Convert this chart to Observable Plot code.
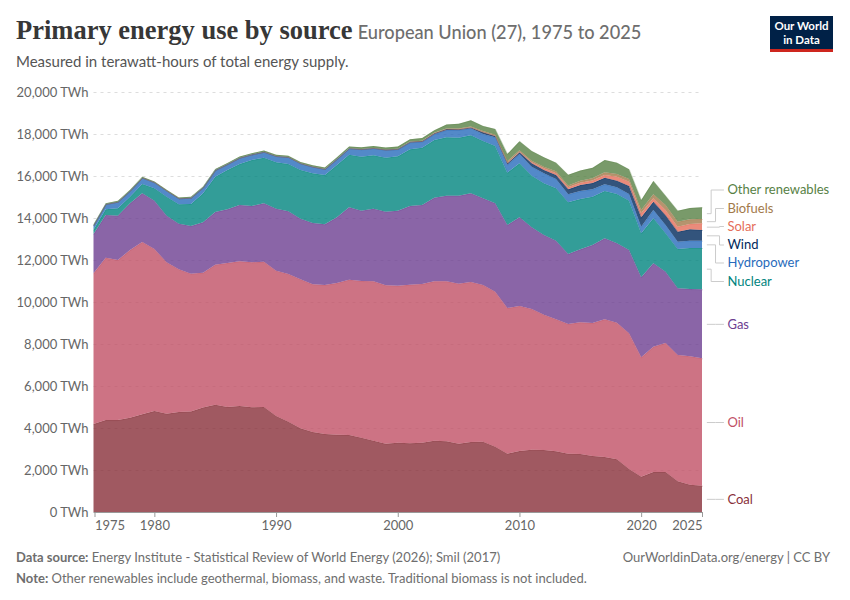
<!DOCTYPE html>
<html><head><meta charset="utf-8">
<script src="https://cdn.jsdelivr.net/npm/d3@7"></script>
<script src="https://cdn.jsdelivr.net/npm/@observablehq/plot@0.6"></script>
<style>
html,body{margin:0;padding:0;background:#fff;font-family:Lato,sans-serif;}
#page{position:relative;width:850px;height:600px;overflow:hidden;}
#head{position:relative;height:80px;}
#title{position:absolute;left:16px;top:15px;white-space:nowrap;color:#373737;}
#title b{font-family:"Liberation Serif",serif;font-weight:700;font-size:26.5px;}
#title span{font-size:18.2px;font-weight:500;color:#6e6e6e;margin-left:1px;}
#sub{position:absolute;left:16px;top:52px;font-size:15px;color:#555;}
#logo{position:absolute;left:770px;top:16px;width:63px;height:36px;background:#002147;border-bottom:3px solid #ce261e;box-sizing:border-box;color:#fff;font-size:11.5px;font-weight:700;line-height:14px;text-align:center;padding-top:3px;}
svg{display:block;}
#foot{position:absolute;left:16px;right:20px;top:547px;font-size:13px;color:#6e6e6e;line-height:21px;}
#foot .r{position:absolute;right:0;top:0;}
</style></head><body>
<div id="page">
 <div id="head">
  <div id="title"><b>Primary energy use by source</b> <span>European Union (27), 1975 to 2025</span></div>
  <div id="sub">Measured in terawatt-hours of total energy supply.</div>
  <div id="logo">Our World<br>in Data</div>
 </div>
 <div id="chart"></div>
 <div id="foot"><b>Data source:</b> Energy Institute - Statistical Review of World Energy (2026); Smil (2017)<span class="r">OurWorldinData.org/energy | CC BY</span><br><b>Note:</b> Other renewables include geothermal, biomass, and waste. Traditional biomass is not included.</div>
</div>
<script>
const years = d3.range(1975, 2026);
const coal = [4190,4380,4380,4490,4650,4810,4680,4760,4790,4980,5110,5000,5050,4985,5000,4570,4300,3985,3810,3715,3680,3667,3540,3395,3250,3300,3270,3300,3395,3365,3250,3333,3350,3110,2776,2905,2968,2952,2889,2776,2762,2667,2619,2508,2048,1681,1905,1905,1460,1300,1252];
const oil = [7175,7730,7620,7986,8207,7714,7210,6796,6560,6417,6668,6857,6887,6905,6920,6922,7033,7094,7031,7095,7225,7396,7460,7589,7544,7470,7555,7557,7589,7619,7623,7619,7460,7382,6938,6905,6699,6445,6286,6176,6270,6333,6556,6508,6460,5684,5968,6143,6016,6113,6065];
const gas = [1873,2033,2111,2222,2318,2301,2221,2174,2269,2397,2508,2556,2682,2681,2778,2952,2984,2889,2921,2888,3127,3445,3349,3460,3508,3570,3746,3762,3984,4079,4190,4223,4127,4206,3953,4222,3889,3793,3746,3334,3476,3714,3857,3778,3968,3810,3968,3396,3175,3206,3286];
const nuclear = [200,270,349,318,444,588,905,921,1048,1381,1682,1873,1952,2191,2175,2207,2254,2318,2365,2350,2492,2507,2571,2540,2571,2600,2699,2730,2746,2778,2762,2762,2730,2731,2492,2571,2460,2461,2492,2460,2397,2302,2254,2349,2349,2095,2143,1826,1873,1952,1968];
const hydro = [230,254,318,286,302,285,286,286,301,285,318,285,302,270,280,300,330,317,317,285,286,302,350,333,365,330,333,286,286,349,365,333,333,412,381,445,428,476,444,381,381,349,317,317,318,317,397,397,349,350,350];
const wind = [0,0,0,0,0,0,0,0,0,0,0,0,0,0,0,1,2,3,3,5,7,8,12,18,20,22,28,34,40,48,40,40,79,64,63,79,159,159,191,238,285,300,318,318,381,445,397,460,476,539,508];
const solar = [0,0,0,0,0,0,0,0,0,0,0,0,0,0,0,0,0,0,0,0,0,0,0,0,0,1,1,1,2,3,4,6,10,15,20,25,47,79,79,95,112,120,127,190,206,190,159,254,238,254,317];
const biofuels = [0,0,0,0,0,0,0,0,0,0,0,0,0,0,0,0,0,1,1,1,2,2,3,3,4,6,8,12,15,20,30,47,59,48,80,80,80,79,95,90,90,110,127,127,127,159,190,238,238,223,206];
const otherRenewables = [35,35,38,38,40,40,42,42,45,45,48,50,52,55,58,60,60,62,65,68,70,75,80,85,95,100,110,127,127,191,222,286,238,270,349,428,460,445,413,508,492,492,587,540,460,476,635,444,524,539,556];

const sources = ["Coal","Oil","Gas","Nuclear","Hydropower","Wind","Solar","Biofuels","Other renewables"];
const seriesValues = [coal,oil,gas,nuclear,hydro,wind,solar,biofuels,otherRenewables];
const areaColors = ["#883039","#C15065","#6D3E91","#00847E","#286BBB","#00295B","#E56E5A","#A2794A","#578145"];
const yTicks = [0,2000,4000,6000,8000,10000,12000,14000,16000,18000,20000];
const xTicksMiddle = [1980,1990,2000,2010,2020];

// Right-hand labels: height on the TWh scale and the year-scale column of the elbow
const labelHeights = [626,4285,8960,11000,11881,12738,13619,14476,15357];
const elbowColumn = [2026.07,2026.07,2026.07,2025.71,2026.07,2026.4,2026.4,2026.07,2025.71];
const connectorFrom = 2025.39, connectorTo = 2026.73, labelColumn = 2027.05;

const table = [];
sources.forEach((s,i)=>years.forEach((y,j)=>table.push({year:y,source:s,value:seriesValues[i][j]})));

let base = 0;
const labels = sources.map((s,i)=>{
  const v = seriesValues[i][seriesValues[i].length-1];
  const mid = base + v/2; base += v;
  return {source:s, mid, y:labelHeights[i], elbow:elbowColumn[i]};
});
const connectors = labels.flatMap(l=>[
  {source:l.source,x:connectorFrom,y:l.mid},
  {source:l.source,x:l.elbow,y:l.mid},
  {source:l.source,x:l.elbow,y:l.y},
  {source:l.source,x:connectorTo,y:l.y}
]);
const textGray = "#666";
const plot = Plot.plot({
  width:850, height:457,
  marginTop:12, marginBottom:25, marginLeft:93.5, marginRight:148,
  style:{fontFamily:"Lato,sans-serif",fontSize:"13px",background:"transparent",overflow:"visible"},
  x:{domain:[1975,2025],label:null},
  y:{domain:[0,20000],label:null},
  color:{domain:sources,range:areaColors},
  marks:[
    Plot.ruleY(yTicks.filter(d=>d>0),{stroke:"#ddd",strokeDasharray:"3,4"}),
    Plot.areaY(table,{x:"year",y:"value",z:"source",fill:"source",fillOpacity:0.8,order:null}),
    Plot.lineY(table,Plot.stackY2({x:"year",y:"value",z:"source",stroke:"source",strokeWidth:0.5,strokeOpacity:0.5,order:null})),
    Plot.ruleY([0],{stroke:"#999"}),
    Plot.axisY({ticks:yTicks,tickSize:0,tickPadding:5.5,tickFormat:d=>d3.format(",")(d)+" TWh",color:textGray,fontSize:13,label:null}),
    Plot.axisX({ticks:xTicksMiddle,tickFormat:"d",tickSize:5,tickPadding:3,color:textGray,stroke:"#999",fontSize:13,label:null}),
    Plot.axisX({ticks:[1975],tickFormat:"d",tickSize:5,tickPadding:3,textAnchor:"start",dx:1,color:textGray,stroke:"#999",fontSize:13,label:null}),
    Plot.axisX({ticks:[2025],tickFormat:"d",tickSize:5,tickPadding:3,textAnchor:"end",color:textGray,stroke:"#999",fontSize:13,label:null}),
    Plot.line(connectors,{x:"x",y:"y",z:"source",stroke:"#ccc",strokeWidth:1}),
    Plot.text(labels,{x:()=>labelColumn,y:"y",text:"source",fill:"source",textAnchor:"start",lineAnchor:"middle",fontSize:13})
  ]
});
document.getElementById("chart").appendChild(plot);
</script>
</body></html>
